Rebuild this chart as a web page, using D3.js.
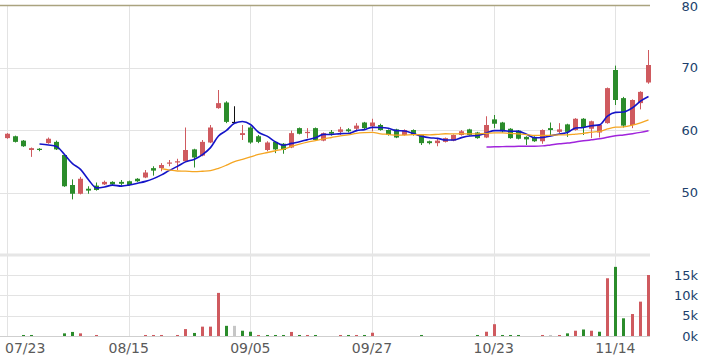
<!DOCTYPE html>
<html>
<head>
<meta charset="utf-8">
<script src="https://cdn.jsdelivr.net/npm/d3@7"></script>
<style>
    body { margin: 0; background: #fff; }
    #chart-area { width: 702px; height: 359px; }
    text { font-family: "DejaVu Sans", Verdana, sans-serif; }
</style>
</head>
<body>
<div id="chart-area"></div>
<script>

// daily candles, one entry per trading day (80 days)
let opens = [
    58.7, 59.0, 58.3, 56.8, 57.0, 57.9, 58.1, 56.0, 51.2, 49.8,
    50.6, 51.1, 51.3, 51.7, 51.7, 51.8, 52.2, 52.4, 53.9, 53.9,
    54.7, 54.8, 55.0, 56.9, 55.9, 58.0, 63.5, 64.4, 61.3, 59.2,
    60.4, 59.0, 56.8, 58.1, 57.8, 57.2, 60.3, 59.5, 60.3, 58.3,
    59.7, 59.7, 60.1, 60.2, 61.2, 60.6, 60.8, 60.0, 60.1, 59.2,
    60.0, 59.2, 58.2, 57.9, 58.1, 58.3, 59.2, 60.1, 59.6, 58.8,
    61.7, 61.2, 60.2, 59.9, 58.9, 58.9, 58.2, 60.3, 59.7, 60.9,
    60.0, 61.8, 60.2, 59.6, 61.1, 69.6, 65.1, 60.8, 64.3, 67.6
];
let highs = [
    59.5, 59.1, 58.4, 57.2, 57.1, 58.8, 58.3, 56.1, 52.1, 52.5,
    51.0, 51.6, 51.9, 51.8, 52.0, 51.9, 52.3, 53.6, 54.2, 54.7,
    55.2, 55.4, 60.4, 57.0, 58.4, 60.8, 66.4, 64.6, 63.8, 60.8,
    60.6, 59.2, 58.2, 58.2, 57.9, 59.9, 60.4, 60.3, 60.4, 59.6,
    60.0, 60.5, 60.3, 61.1, 61.3, 61.8, 61.0, 60.1, 60.2, 60.1,
    60.1, 59.3, 58.3, 58.7, 58.8, 59.3, 60.0, 60.2, 59.7, 62.2,
    62.4, 61.3, 60.3, 60.0, 59.0, 59.0, 60.1, 61.2, 61.1, 61.0,
    61.9, 61.9, 61.5, 60.9, 66.8, 70.3, 65.3, 64.9, 66.2, 72.8
];
let lows = [
    58.6, 58.0, 57.3, 55.7, 56.6, 57.8, 56.8, 50.9, 48.9, 49.7,
    49.8, 50.3, 51.2, 51.2, 51.1, 51.1, 51.7, 52.3, 52.7, 53.4,
    54.2, 53.6, 54.9, 54.0, 55.8, 57.9, 63.4, 61.1, 61.0, 58.4,
    57.8, 57.9, 56.6, 56.3, 56.2, 57.1, 59.3, 58.7, 58.3, 58.2,
    59.1, 59.2, 59.6, 59.8, 60.1, 59.8, 59.9, 59.1, 58.7, 59.1,
    59.1, 57.6, 57.7, 57.4, 58.0, 58.2, 59.1, 59.1, 58.6, 58.7,
    60.3, 59.6, 58.6, 58.5, 57.6, 58.1, 57.8, 59.0, 59.5, 58.9,
    59.9, 59.2, 58.7, 58.8, 61.0, 64.0, 60.4, 60.3, 63.3, 67.4
];
let closes = [
    59.4, 58.1, 57.4, 57.1, 56.8, 58.6, 56.9, 51.0, 49.8, 52.2,
    50.3, 50.4, 51.7, 51.3, 51.4, 51.2, 51.8, 53.2, 53.5, 54.4,
    54.8, 55.0, 56.8, 55.6, 58.1, 60.4, 64.3, 61.3, 61.3, 59.5,
    58.0, 58.1, 58.0, 56.9, 56.8, 59.5, 59.4, 59.7, 58.4, 59.5,
    59.4, 60.1, 59.8, 60.7, 60.3, 61.2, 60.0, 59.2, 58.8, 60.0,
    59.2, 57.9, 57.9, 58.3, 58.7, 59.2, 59.8, 59.2, 58.7, 60.8,
    61.0, 59.8, 58.7, 58.6, 58.5, 58.2, 60.0, 60.0, 60.1, 59.7,
    61.8, 60.4, 61.4, 60.8, 66.7, 64.8, 60.7, 64.8, 66.1, 70.4
];
// volume in thousands of shares
let volumes = [
    0, 0, 0.25, 0.25, 0, 0, 0, 0.65, 1.0, 0.65,
    0, 0.25, 0, 0, 0, 0, 0, 0.25, 0.25, 0.25,
    0, 0.25, 1.7, 0.75, 2.3, 2.3, 10.6, 2.5, 2.5, 1.3,
    1.05, 0.25, 0.25, 0.25, 0.25, 1.0, 0.25, 0.25, 0.25, 0,
    0, 0.25, 0.25, 0.25, 0.25, 0.8, 0, 0, 0, 0,
    0, 0.25, 0, 0, 0, 0, 0, 0, 0.25, 1.05,
    2.9, 0.25, 0.25, 0.25, 0, 0, 0.25, 0.25, 0.25, 0.65,
    1.3, 1.6, 1.3, 1.05, 14.2, 17.0, 4.35, 5.4, 8.45, 15.0
];

let tickIndex = [0, 15, 30, 45, 60, 75];
let tickLabels = ["07/23", "08/15", "09/05", "09/27", "10/23", "11/14"];
let priceTicks = [50, 60, 70, 80];
let volumeTicks = [0, 5, 10, 15];
let maPeriods = [5, 20, 60];


class CandleChart {

    constructor(_parentElement) {
        this.parentElement = _parentElement;
        this.displayData = [];

        this.initVis();
    }

    /*
     * static content: svg, scales, grid, axes
     */
    initVis() {
        let vis = this;

        vis.width = 702;
        vis.height = 359;
        vis.plotRight = 650;

        vis.svg = d3.select("#" + vis.parentElement).append("svg")
            .attr("width", vis.width)
            .attr("height", vis.height);

        vis.x = d3.scaleBand()
            .domain(d3.range(closes.length))
            .range([3, 651.8]);

        vis.y = d3.scaleLinear()
            .domain([40, 80])
            .range([255, 5]);

        vis.yVol = d3.scaleLinear()
            .domain([0, 15])
            .range([336, 275]);

        vis.cx = i => Math.round(vis.x(i) + vis.x.bandwidth() / 2);

        // grid
        let grid = vis.svg.append("g").attr("class", "grid");

        grid.selectAll(".vgrid")
            .data(tickIndex)
            .enter().append("line")
            .attr("x1", d => vis.cx(d) + 0.5)
            .attr("x2", d => vis.cx(d) + 0.5)
            .attr("y1", 5)
            .attr("y2", 336)
            .attr("stroke", "#e3e3e3");

        grid.selectAll(".pgrid")
            .data(priceTicks)
            .enter().append("line")
            .attr("x1", 0)
            .attr("x2", vis.plotRight)
            .attr("y1", d => Math.round(vis.y(d)) + 0.5)
            .attr("y2", d => Math.round(vis.y(d)) + 0.5)
            .attr("stroke", d => d === 80 ? "#aaa37f" : "#e3e3e3")
            .attr("stroke-width", d => d === 80 ? 1.5 : 1);

        grid.selectAll(".vgrid2")
            .data(volumeTicks)
            .enter().append("line")
            .attr("x1", 0)
            .attr("x2", vis.plotRight)
            .attr("y1", d => Math.round(vis.yVol(d)) + 0.5)
            .attr("y2", d => Math.round(vis.yVol(d)) + 0.5)
            .attr("stroke", d => d === 0 ? "#cfcfcf" : "#e3e3e3");

        // separator between price and volume panel
        grid.append("line")
            .attr("x1", 0)
            .attr("x2", vis.plotRight)
            .attr("y1", 255)
            .attr("y2", 255)
            .attr("stroke", "#e6e6e6")
            .attr("stroke-width", 3);

        // axes
        vis.priceAxis = vis.svg.append("g")
            .attr("transform", "translate(698,0)")
            .call(d3.axisLeft(vis.y).tickValues(priceTicks).tickSize(0).tickPadding(0));

        vis.volAxis = vis.svg.append("g")
            .attr("transform", "translate(698,0)")
            .call(d3.axisLeft(vis.yVol).tickValues(volumeTicks).tickSize(0).tickPadding(0)
                .tickFormat(d => d + "k"));

        vis.xAxis = vis.svg.append("g")
            .attr("transform", "translate(0,336)")
            .call(d3.axisBottom(vis.x).tickValues(tickIndex).tickSize(0).tickPadding(7)
                .tickFormat(d => tickLabels[tickIndex.indexOf(d)]));

        vis.svg.selectAll(".domain").remove();

        vis.priceAxis.selectAll("text").style("font-size", "13px").attr("fill", "#203f6c");
        vis.volAxis.selectAll("text").style("font-size", "13px").attr("fill", "#203f6c");
        vis.xAxis.selectAll("text").style("font-size", "14px").attr("fill", "#5a5a5a");

        // top label sits on the edge, nudge it down a little
        vis.priceAxis.selectAll(".tick text")
            .filter(d => d === 80)
            .attr("y", 1.5);

        // first label would be clipped at the left edge
        vis.xAxis.select(".tick text")
            .attr("text-anchor", "start")
            .attr("x", -2);

        vis.wrangleData();
    }

    /*
     * build rows and moving averages
     */
    wrangleData() {
        let vis = this;

        vis.displayData = closes.map((c, i) => ({
            i: i,
            open: opens[i],
            high: highs[i],
            low: lows[i],
            close: c,
            volume: volumes[i],
            prev: i > 0 ? closes[i - 1] : c
        }));

        // moving averages of the close
        vis.averages = maPeriods.map(n => {
            let pts = [];
            for (let i = n - 1; i < closes.length; i++) {
                pts.push({i: i, v: d3.mean(closes.slice(i - n + 1, i + 1))});
            }
            return pts;
        });

        vis.updateVis();
    }

    /*
     * draw candles, volume and lines
     */
    updateVis() {
        let vis = this;

        let red = "#cf5a5f",
            green = "#2b8c2b";

        let candleColor = d => d.close > d.open ? red : (d.close < d.open ? green : "#111");
        let volColor = d => d.close > d.prev ? red : (d.close < d.prev ? green : "#c6c6c6");

        // volume bars
        vis.svg.append("g").selectAll("rect")
            .data(vis.displayData.filter(d => d.volume > 0))
            .enter().append("rect")
            .attr("x", d => vis.cx(d.i) - 1)
            .attr("width", 3)
            .attr("y", d => vis.yVol(d.volume))
            .attr("height", d => vis.yVol(0) - vis.yVol(d.volume))
            .attr("fill", volColor);

        let candles = vis.svg.append("g")
            .selectAll(".candle")
            .data(vis.displayData)
            .enter().append("g")
            .attr("class", "candle");

        candles.append("line")
            .attr("x1", d => vis.cx(d.i) + 0.5)
            .attr("x2", d => vis.cx(d.i) + 0.5)
            .attr("y1", d => vis.y(d.high))
            .attr("y2", d => vis.y(d.low))
            .attr("stroke", candleColor)
            .attr("stroke-width", 1);

        candles.append("rect")
            .attr("x", d => vis.cx(d.i) - 2)
            .attr("width", 5)
            .attr("y", d => vis.y(Math.max(d.open, d.close)))
            .attr("height", d => Math.max(1.2, Math.abs(vis.y(d.open) - vis.y(d.close))))
            .attr("fill", candleColor);

        // moving average lines: 5, 20, 60 days
        let lineColors = ["#1414c8", "#f5a623", "#a024dc"];
        let lineWidths = [1.6, 1.3, 1.5];

        let line = d3.line()
            .x(d => vis.cx(d.i) + 0.5)
            .y(d => vis.y(d.v))
            .curve(d3.curveMonotoneX);

        vis.svg.append("g").selectAll("path")
            .data(vis.averages)
            .enter().append("path")
            .attr("d", line)
            .attr("fill", "none")
            .attr("stroke", (d, k) => lineColors[k])
            .attr("stroke-width", (d, k) => lineWidths[k]);
    }
}

new CandleChart("chart-area");

</script>
</body>
</html>
